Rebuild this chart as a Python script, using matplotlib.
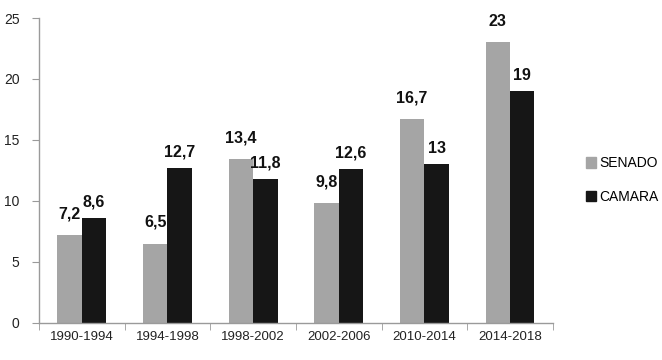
import numpy as np
import matplotlib
matplotlib.use("Agg")
import matplotlib.pyplot as plt
from matplotlib import font_manager
from matplotlib.patches import Patch

# data
periods = ["1990-1994", "1994-1998", "1998-2002", "2002-2006", "2010-2014", "2014-2018"]
senado = [7.2, 6.5, 13.4, 9.8, 16.7, 23]
camara = [8.6, 12.7, 11.8, 12.6, 13, 19]
senado_labels = ["7,2", "6,5", "13,4", "9,8", "16,7", "23"]
camara_labels = ["8,6", "12,7", "11,8", "12,6", "13", "19"]

names = {f.name for f in font_manager.fontManager.ttflist}
font = "Liberation Sans Narrow" if "Liberation Sans Narrow" in names else "Liberation Sans"
plt.rcParams["font.family"] = [font, "DejaVu Sans"]

grey = "#a5a5a5"
black = "#161616"
axis_col = "#9a9a9a"

fig = plt.figure(figsize=(6.62, 3.6), dpi=100)
ax = fig.add_axes([0.059, 0.103, 0.776, 0.847])

x = np.arange(len(periods))
w = 0.285
b1 = ax.bar(x - w / 2, senado, w, color=grey, label="SENADO")
b2 = ax.bar(x + w / 2, camara, w, color=black, label="CAMARA")

for rect, lab in zip(b1, senado_labels):
    ax.annotate(lab, (rect.get_x() + rect.get_width() / 2, rect.get_height()),
                xytext=(0, 10), textcoords="offset points", ha="center", va="bottom",
                fontsize=11.5, fontweight="bold", color="#111111")
for rect, lab in zip(b2, camara_labels):
    ax.annotate(lab, (rect.get_x() + rect.get_width() / 2, rect.get_height()),
                xytext=(0, 6), textcoords="offset points", ha="center", va="bottom",
                fontsize=11.5, fontweight="bold", color="#111111")

ax.set_xlim(-0.5, len(periods) - 0.5)
ax.set_ylim(0, 25)
ax.set_yticks([0, 5, 10, 15, 20, 25])
ax.set_xticks(x)
ax.set_xticklabels(periods, fontsize=9.5, color="#222222")
ax.set_xticks(np.arange(len(periods) + 1) - 0.5, minor=True)
ax.tick_params(axis="x", which="major", length=0, pad=6)
ax.tick_params(axis="x", which="minor", length=5, color=axis_col)
ax.tick_params(axis="y", length=5, color=axis_col, labelsize=10, labelcolor="#222222", pad=9)

for s in ["top", "right"]:
    ax.spines[s].set_visible(False)
for s in ["left", "bottom"]:
    ax.spines[s].set_color(axis_col)
    ax.spines[s].set_linewidth(1)

handles = [Patch(color=grey, label="SENADO"), Patch(color=black, label="CAMARA")]
fig.legend(handles=handles, loc="center left", bbox_to_anchor=(0.866, 0.5),
           frameon=False, fontsize=10, handlelength=0.75, handleheight=0.75,
           handletextpad=0.2, labelspacing=1.4)

fig.savefig("out.png", dpi=100)
